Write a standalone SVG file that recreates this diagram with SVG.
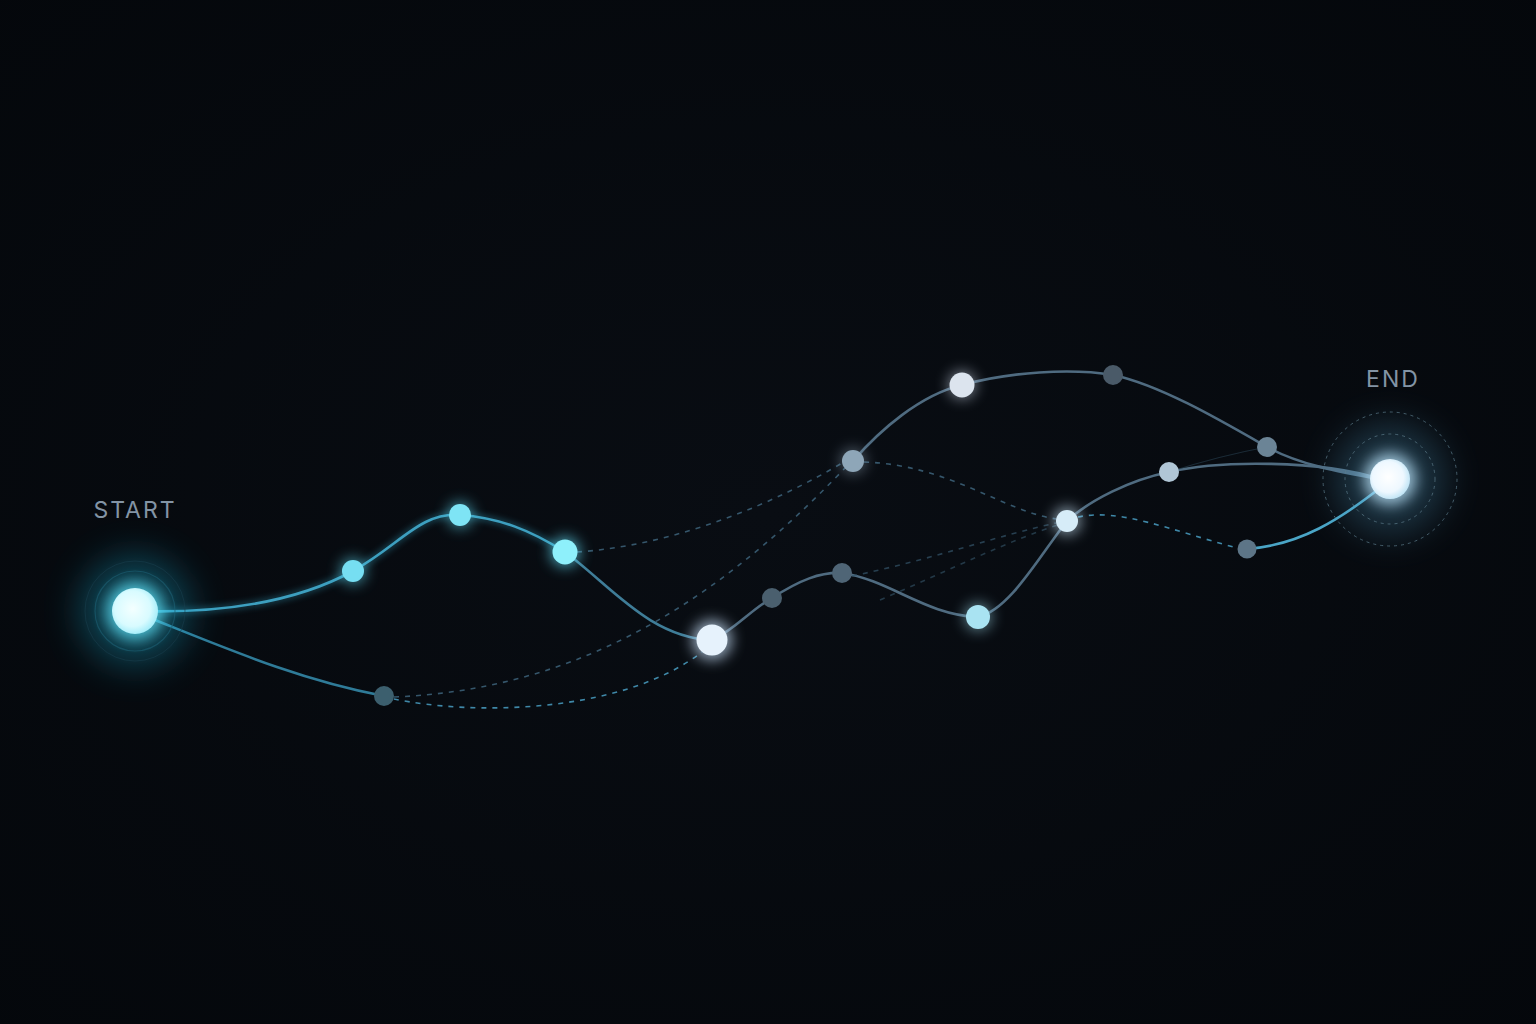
<svg xmlns="http://www.w3.org/2000/svg" width="1536" height="1024" viewBox="0 0 1536 1024">
<defs>
<radialGradient id="bg" cx="50%" cy="50%" r="75%">
<stop offset="0" stop-color="#090d13"/>
<stop offset="1" stop-color="#04070b"/>
</radialGradient>
<filter id="glow" x="-200%" y="-200%" width="500%" height="500%">
<feGaussianBlur stdDeviation="7"/>
</filter>
<filter id="glowBig" x="-200%" y="-200%" width="500%" height="500%">
<feGaussianBlur stdDeviation="18"/>
</filter>
<filter id="lineGlow" x="-20%" y="-20%" width="140%" height="140%">
<feGaussianBlur stdDeviation="3"/>
</filter>
<radialGradient id="startFill" cx="45%" cy="45%" r="55%">
<stop offset="0" stop-color="#f4ffff"/>
<stop offset="0.7" stop-color="#d8fbff"/>
<stop offset="1" stop-color="#a8eefa"/>
</radialGradient>
<radialGradient id="endFill" cx="45%" cy="45%" r="55%">
<stop offset="0" stop-color="#ffffff"/>
<stop offset="0.7" stop-color="#eef8ff"/>
<stop offset="1" stop-color="#c4e6f6"/>
</radialGradient>
<style>
.solid{fill:none;stroke-width:2.6;stroke-linecap:round}
.cy{stroke:#3d9fbf}
.gr{stroke:#4f6b80}
.dash{fill:none;stroke-width:1.6;stroke-dasharray:5 6}
.dcy{stroke:#3f88a8}
.dgr{stroke:#35566b}
.lbl{font-family:"Inter","Liberation Sans",sans-serif;font-size:23px;fill:#8394a5;letter-spacing:2px;text-anchor:middle}
.ring{fill:none;stroke:#5d7c8c;stroke-width:1;stroke-dasharray:3 4;opacity:0.7}
</style>
</defs>
<rect width="1536" height="1024" fill="url(#bg)"/>

<g id="connectors">
<path d="M135,611 C230,614 300,600 353,571 C400,545 420,512 460,515 C500,518 530,530 565,552" fill="none" stroke="#3fc3e6" stroke-width="6" opacity="0.3" filter="url(#lineGlow)"/>
<path class="solid cy" d="M135,611 C230,614 300,600 353,571 C400,545 420,512 460,515 C500,518 530,530 565,552"/>
<path class="solid" stroke="#3f7d98" d="M565,552 C610,585 650,638 712,640"/>
<path class="solid gr" d="M712,640 C735,630 750,610 772,598 C800,580 820,572 842,573 C890,580 925,615 978,617 C1010,610 1040,555 1067,521 C1090,500 1130,480 1169,472 C1220,460 1320,460 1380,479"/>
<path class="solid gr" d="M853,461 C880,430 920,395 962,385 C1010,372 1070,368 1113,375 C1160,385 1220,420 1267,447 C1300,465 1340,472 1380,479"/>
<path class="solid" stroke="#2f7b98" stroke-width="2" fill="none" d="M150,618 C230,650 300,680 384,696"/>
<path fill="none" stroke="#2e4a5c" stroke-width="1.2" opacity="0.5" d="M1169,472 C1200,462 1240,452 1267,447"/>
<path class="solid" stroke="#4aa5c6" stroke-width="2.2" fill="none" d="M1247,549 C1300,545 1340,520 1385,484"/>
<path class="dash dcy" d="M394,699 C470,715 620,715 702,652"/>
<path class="dash dgr" stroke-dasharray="4 5" d="M394,697 C560,690 700,620 845,468"/>
<path class="dash dgr" d="M577,552 C680,545 780,500 842,463"/>
<path class="dash dgr" d="M864,462 C950,465 1000,510 1056,519"/>
<path class="dash dcy" d="M1078,517 C1120,508 1170,530 1237,548"/>
<path class="dash dgr" stroke-dasharray="3 5" opacity="0.7" d="M852,576 C930,560 1000,535 1056,523"/>
<path class="dash dgr" stroke-dasharray="3 5" opacity="0.6" d="M880,600 C950,570 1010,540 1058,525"/>
</g>

<g id="start">
<circle cx="135" cy="611" r="55" fill="#1fb4d8" opacity="0.35" filter="url(#glowBig)"/>
<circle cx="135" cy="611" r="40" fill="none" stroke="#1c5e72" stroke-width="1.2" opacity="0.6"/>
<circle cx="135" cy="611" r="50" fill="none" stroke="#173e4c" stroke-width="1" opacity="0.6"/>
<circle cx="135" cy="611" r="29" fill="#5fe0f5" opacity="0.75" filter="url(#glow)"/>
<circle cx="135" cy="611" r="23" fill="url(#startFill)"/>
<text class="lbl" x="135" y="518">START</text>
</g>

<g id="end">
<circle cx="1390" cy="479" r="55" fill="#5aa8d0" opacity="0.28" filter="url(#glowBig)"/>
<circle class="ring" cx="1390" cy="479" r="45"/>
<circle class="ring" cx="1390" cy="479" r="67" opacity="0.5"/>
<circle cx="1390" cy="479" r="26" fill="#bfe8ff" opacity="0.75" filter="url(#glow)"/>
<circle cx="1390" cy="479" r="20" fill="url(#endFill)"/>
<text class="lbl" x="1393" y="387">END</text>
</g>

<g id="n1"><circle cx="353" cy="571" r="13" fill="#5fd8f0" opacity="0.6" filter="url(#glow)"/><circle cx="353" cy="571" r="11" fill="#76def2"/></g>
<g id="n2"><circle cx="460" cy="515" r="13" fill="#5fd8f0" opacity="0.6" filter="url(#glow)"/><circle cx="460" cy="515" r="11" fill="#7ee4f5"/></g>
<g id="n3"><circle cx="565" cy="552" r="15" fill="#5fd8f0" opacity="0.7" filter="url(#glow)"/><circle cx="565" cy="552" r="12.5" fill="#8ef0fb"/></g>
<g id="n4"><circle cx="712" cy="640" r="20" fill="#cde6ff" opacity="0.7" filter="url(#glow)"/><circle cx="712" cy="640" r="15.5" fill="#e6f2fc"/></g>
<g id="n5"><circle cx="772" cy="598" r="10" fill="#4a5f6e"/></g>
<g id="n6"><circle cx="842" cy="573" r="10" fill="#4f6576"/></g>
<g id="n7"><circle cx="978" cy="617" r="14" fill="#a8e6f8" opacity="0.5" filter="url(#glow)"/><circle cx="978" cy="617" r="12" fill="#a9e3f2"/></g>
<g id="n8"><circle cx="1067" cy="521" r="14" fill="#d0ecff" opacity="0.6" filter="url(#glow)"/><circle cx="1067" cy="521" r="11" fill="#d6ecf8"/></g>
<g id="n9"><circle cx="1169" cy="472" r="10" fill="#b0c6d6"/></g>
<g id="n10"><circle cx="853" cy="461" r="13" fill="#a8c0d4" opacity="0.4" filter="url(#glow)"/><circle cx="853" cy="461" r="11" fill="#8ea6b8"/></g>
<g id="n11"><circle cx="962" cy="385" r="14" fill="#e0ecff" opacity="0.5" filter="url(#glow)"/><circle cx="962" cy="385" r="12.5" fill="#dce4ee"/></g>
<g id="n12"><circle cx="1113" cy="375" r="10" fill="#4a5a68"/></g>
<g id="n13"><circle cx="1267" cy="447" r="10" fill="#6b8496"/></g>
<g id="n14"><circle cx="1247" cy="549" r="9.5" fill="#5d7587"/></g>
<g id="n15"><circle cx="384" cy="696" r="10" fill="#3c5f6e"/></g>
</svg>
